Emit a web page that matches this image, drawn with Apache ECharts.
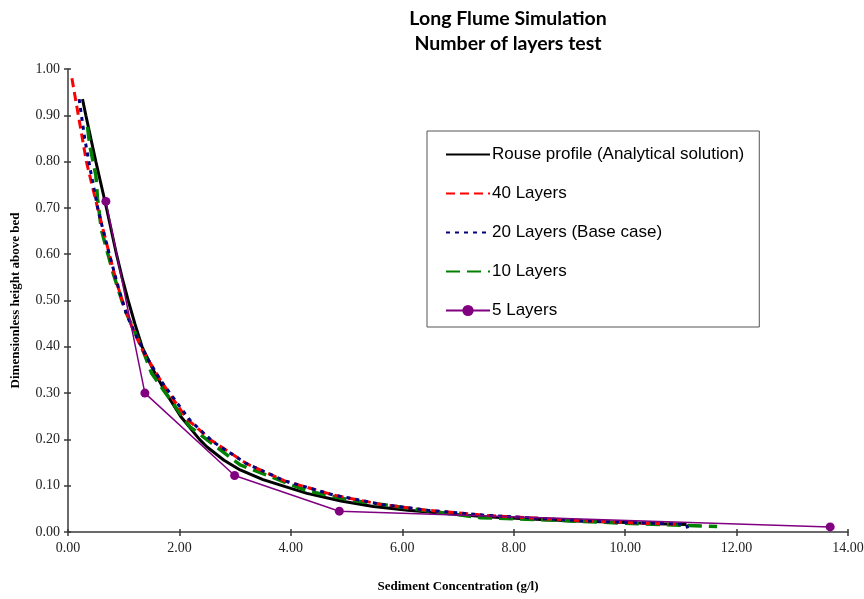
<!DOCTYPE html>
<html>
<head>
<meta charset="utf-8">
<script src="https://cdn.jsdelivr.net/npm/echarts@6/dist/echarts.min.js"></script>
<style>html,body{margin:0;padding:0;background:#fff;}#c{width:864px;height:599px;}</style>
</head>
<body>
<div id="c"></div>
<script>
var xTicks = [0, 2, 4, 6, 8, 10, 12, 14];
var yTicks = [0, 0.1, 0.2, 0.3, 0.4, 0.5, 0.6, 0.7, 0.8, 0.9, 1.0];

var rouse = [[0.26,0.935],[0.32,0.90],[0.41,0.85],[0.50,0.80],[0.595,0.75],[0.69,0.70],[0.78,0.65],[0.87,0.60],[0.97,0.55],[1.08,0.50],[1.20,0.45],[1.33,0.40],[1.53,0.35],[1.76,0.30],[2.02,0.25],[2.36,0.20],[2.49,0.184],[2.80,0.155],[3.09,0.134],[3.5,0.113],[3.9,0.098],[4.29,0.0835],[4.9,0.067],[5.48,0.055],[6.1,0.047],[6.68,0.041],[7.5,0.033],[8.3,0.028],[9.1,0.024],[9.9,0.021],[10.6,0.018],[11.1,0.016]];

var layers40 = [[0.07,0.98],[0.2,0.89],[0.33,0.80],[0.5,0.715],[0.7,0.62],[0.87,0.54],[1.0,0.49],[1.17,0.436],[1.35,0.39],[1.65,0.33],[1.9,0.285],[2.13,0.245],[2.55,0.20],[3.2,0.148],[3.9,0.11],[4.76,0.08],[5.6,0.06],[6.44,0.047],[7.5,0.036],[8.5,0.029],[9.5,0.023],[10.3,0.019],[10.9,0.017]];

var layers20 = [[0.2,0.935],[0.3,0.85],[0.42,0.77],[0.55,0.69],[0.72,0.61],[0.9,0.53],[1.05,0.47],[1.2,0.43],[1.4,0.38],[1.65,0.33],[1.95,0.28],[2.2,0.24],[2.6,0.195],[3.2,0.148],[3.9,0.11],[4.76,0.08],[5.6,0.06],[6.45,0.047],[7.5,0.036],[8.5,0.029],[9.5,0.023],[10.5,0.019],[11.1,0.017],[11.13,0.004]];

var layers10 = [[0.35,0.875],[0.39,0.835],[0.44,0.806],[0.5,0.77],[0.53,0.72],[0.6,0.652],[0.81,0.559],[1.02,0.48],[1.32,0.40],[1.5,0.343],[1.71,0.307],[2.19,0.227],[3.09,0.145],[4.29,0.089],[5.06,0.069],[6.32,0.048],[7.4,0.031],[9.01,0.024],[9.78,0.02],[10.7,0.016],[11.65,0.012]];

var layers5 = [[0.68,0.714],[1.38,0.30],[2.99,0.122],[4.87,0.045],[13.68,0.011]];

var seriesNames = ['Rouse profile (Analytical solution)', '40 Layers', '20 Layers (Base case)', '10 Layers', '5 Layers'];

var chart = echarts.init(document.getElementById('c'), null, {renderer: 'canvas'});
var serif = 'Liberation Serif';
var axisColor = '#3a3a3a';
var noSym = {opacity: 0};
chart.setOption({
  animation: false,
  backgroundColor: '#ffffff',
  title: {
    text: 'Long Flume Simulation\nNumber of layers test',
    left: 503, top: 1, textAlign: 'center',
    textStyle: {fontFamily: 'Lato', fontWeight: 'bold', fontSize: 19.5, lineHeight: 25, color: '#000'}
  },
  legend: {
    orient: 'vertical',
    left: 427, top: 131,
    padding: [15, 15, 8, 18],
    itemWidth: 44, itemHeight: 14, itemGap: 22,
    borderColor: '#555', borderWidth: 1,
    backgroundColor: '#fff',
    textStyle: {fontFamily: 'Liberation Sans', fontSize: 17, color: '#000', padding: [0,0,0,-3]},
    data: [
      {name: seriesNames[0], itemStyle: noSym},
      {name: seriesNames[1], itemStyle: noSym},
      {name: seriesNames[2], itemStyle: noSym},
      {name: seriesNames[3], itemStyle: noSym},
      {name: seriesNames[4]}
    ]
  },
  grid: {left: 68, top: 69, width: 780, height: 463, containLabel: false, outerBoundsMode: 'none'},
  xAxis: [{
    type: 'value', min: 0, max: 14, interval: 2,
    name: 'Sediment Concentration (g/l)', nameLocation: 'middle', nameGap: 48,
    nameTextStyle: {fontFamily: serif, fontWeight: 'bold', fontSize: 13, color: '#000'},
    axisLine: {show: true, onZero: false, lineStyle: {color: axisColor, width: 1.5}},
    axisTick: {show: true, length: 4, lineStyle: {color: axisColor, width: 1.5}},
    axisLabel: {fontFamily: serif, fontSize: 14, color: '#222', margin: 9,
      formatter: function(v){ return v.toFixed(2); }},
    splitLine: {show: false}
  }, {
    type: 'value', min: 0, max: 14, interval: 2, position: 'bottom',
    axisLine: {show: false}, axisLabel: {show: false}, splitLine: {show: false},
    axisTick: {show: true, inside: true, length: 3, lineStyle: {color: axisColor, width: 1.5}}
  }],
  yAxis: [{
    type: 'value', min: 0, max: 1, interval: 0.1,
    name: 'Dimensionless height above bed', nameLocation: 'middle', nameGap: 46,
    nameTextStyle: {fontFamily: serif, fontWeight: 'bold', fontSize: 13, color: '#000'},
    axisLine: {show: true, onZero: false, lineStyle: {color: axisColor, width: 1.5}},
    axisTick: {show: true, length: 4, lineStyle: {color: axisColor, width: 1.5}},
    axisLabel: {fontFamily: serif, fontSize: 14, color: '#222', margin: 8,
      formatter: function(v){ return v.toFixed(2); }},
    splitLine: {show: false}
  }, {
    type: 'value', min: 0, max: 1, interval: 0.1, position: 'left',
    axisLine: {show: false}, axisLabel: {show: false}, splitLine: {show: false},
    axisTick: {show: true, inside: true, length: 3, lineStyle: {color: axisColor, width: 1.5}}
  }],
  series: [
    {name: seriesNames[1], type: 'line', data: layers40, symbol: 'none', z: 3,
      lineStyle: {color: '#ff0000', width: 3, type: [9, 5]}, itemStyle: {color: '#ff0000'}},
    {name: seriesNames[2], type: 'line', data: layers20, symbol: 'none', z: 4,
      lineStyle: {color: '#000080', width: 3, type: [4, 5]}, itemStyle: {color: '#000080'}},
    {name: seriesNames[3], type: 'line', data: layers10, symbol: 'none', z: 2,
      lineStyle: {color: '#008000', width: 3.5, type: [14, 7]}, itemStyle: {color: '#008000'}},
    {name: seriesNames[0], type: 'line', data: rouse, symbol: 'none', z: 1,
      lineStyle: {color: '#000000', width: 3}, itemStyle: {color: '#000000'}},
    {name: seriesNames[4], type: 'line', data: layers5, symbol: 'circle', symbolSize: 9, z: 5,
      lineStyle: {color: '#800080', width: 1.5}, itemStyle: {color: '#800080'}}
  ]
});
</script>
</body>
</html>
